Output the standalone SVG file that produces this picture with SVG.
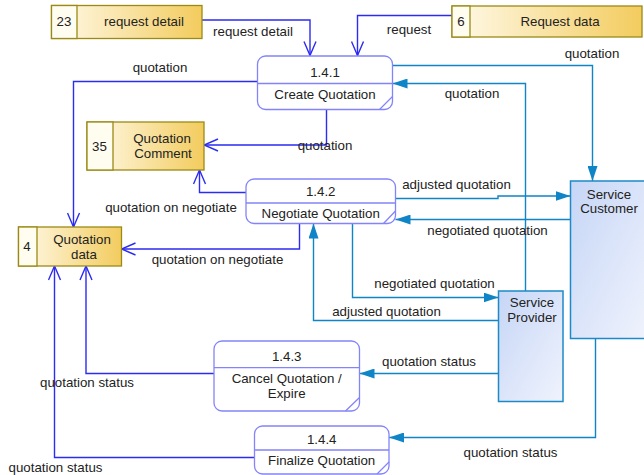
<svg xmlns="http://www.w3.org/2000/svg" width="644" height="475" viewBox="0 0 644 475">
  <style>
    text { font-family: "Liberation Sans", Arial, sans-serif; font-size: 13.3px; fill: #222; text-anchor: middle; }
    .proc { fill: #fff; stroke: #8484fa; stroke-width: 1.3; }
    .pline { stroke: #8484fa; stroke-width: 1.3; fill: none; }
    .store { stroke: #9a8a14; stroke-width: 1.3; }
    .ent { stroke: #1c8ac8; stroke-width: 1.5; }
    .flow { fill: none; stroke: #2b2bf2; stroke-width: 1.4; marker-end: url(#open); }
    .eflow { fill: none; stroke: #0f84c6; stroke-width: 1.4; marker-end: url(#solid); }
  </style>
  <defs>
    <linearGradient id="gold" x1="0" y1="0" x2="1" y2="0">
      <stop offset="0" stop-color="#fffaea"/>
      <stop offset="1" stop-color="#f3cc5e"/>
    </linearGradient>
    <linearGradient id="blueish" x1="0" y1="0" x2="1" y2="1">
      <stop offset="0" stop-color="#c6d6f6"/>
      <stop offset="1" stop-color="#f0f3fd"/>
    </linearGradient>
    <marker id="open" markerUnits="userSpaceOnUse" viewBox="0 0 16 14" refX="15" refY="7" markerWidth="16" markerHeight="14" orient="auto">
      <path d="M1,1 L15,7 L1,13" fill="none" stroke="#2b2bf2" stroke-width="1.4"/>
    </marker>
    <marker id="solid" markerUnits="userSpaceOnUse" viewBox="0 0 16 10" refX="15" refY="5" markerWidth="16" markerHeight="10" orient="auto">
      <path d="M0,0 L15,5 L0,10 z" fill="#0f84c6"/>
    </marker>
  </defs>

  <!-- data flows -->
  <g id="connectors">
    <path class="flow" d="M202,20 H310 V55.5"/>
    <path class="flow" d="M452,15.5 H357.5 V55.5"/>
    <path class="flow" d="M257.5,81.5 H73.5 V227"/>
    <path class="flow" d="M326.5,109.5 V145 H204"/>
    <path class="flow" d="M246,192.5 H199.5 V170"/>
    <path class="flow" d="M299.5,223.5 V249 H121.5"/>
    <path class="flow" d="M214,373.5 H86 V266"/>
    <path class="flow" d="M254.5,457.5 H54.5 V266"/>

    <path class="eflow" d="M392.5,65.5 H592.5 V181"/>
    <path class="eflow" d="M525.5,291 V83.5 H392.5"/>
    <path class="eflow" d="M395.5,198.5 H498 V196 H570.5"/>
    <path class="eflow" d="M570.5,219.5 H395.5"/>
    <path class="eflow" d="M352.5,223.5 V297.5 H498.5"/>
    <path class="eflow" d="M498.5,320.5 H313.5 V223.5"/>
    <path class="eflow" d="M498.5,373.5 H359.5"/>
    <path class="eflow" d="M595.5,338.5 V437.5 H389"/>

    <text x="253" y="36">request detail</text>
    <text x="409" y="34">request</text>
    <text x="160" y="72">quotation</text>
    <text x="325" y="149.5">quotation</text>
    <text x="171" y="211.5">quotation on negotiate</text>
    <text x="217.5" y="263.5">quotation on negotiate</text>
    <text x="87" y="387">quotation status</text>
    <text x="55.5" y="472">quotation status</text>
    <text x="592" y="58">quotation</text>
    <text x="472" y="97.5">quotation</text>
    <text x="456.5" y="188.5">adjusted quotation</text>
    <text x="487.5" y="234.5">negotiated quotation</text>
    <text x="434.5" y="288">negotiated quotation</text>
    <text x="386.5" y="316">adjusted quotation</text>
    <text x="429" y="366">quotation status</text>
    <text x="510.5" y="456.5">quotation status</text>
  </g>

  <!-- data stores -->
  <g id="store-23">
    <rect class="store" x="51.5" y="5.5" width="150.5" height="33" fill="url(#gold)"/>
    <rect class="store" x="51.5" y="5.5" width="25.5" height="33" fill="#fffcf0"/>
    <text x="64" y="26">23</text>
    <text x="144" y="26">request detail</text>
  </g>
  <g id="store-6">
    <rect class="store" x="452" y="6" width="190" height="31" fill="url(#gold)"/>
    <rect class="store" x="452" y="6" width="18" height="31" fill="#fffcf0"/>
    <text x="461" y="26">6</text>
    <text x="560" y="26">Request data</text>
  </g>
  <g id="store-35">
    <rect class="store" x="87" y="122" width="117" height="48" fill="url(#gold)"/>
    <rect class="store" x="87" y="122" width="26" height="48" fill="#fffcf0"/>
    <text x="99.5" y="150.5">35</text>
    <text x="162" y="142.5">Quotation</text>
    <text x="163" y="157.5">Comment</text>
  </g>
  <g id="store-4">
    <rect class="store" x="18.5" y="227" width="103" height="39" fill="url(#gold)"/>
    <rect class="store" x="18.5" y="227" width="18.5" height="39" fill="#fffcf0"/>
    <text x="27" y="250.5">4</text>
    <text x="82" y="244">Quotation</text>
    <text x="84" y="259">data</text>
  </g>

  <!-- processes -->
  <g id="proc-1.4.1">
    <rect class="proc" x="257.5" y="56" width="135" height="53.5" rx="8"/>
    <path class="pline" d="M257.5,83.5 H392.5 M392.5,96.5 L379.5,109.5"/>
    <text x="325" y="76.5">1.4.1</text>
    <text x="325" y="98.5">Create Quotation</text>
  </g>
  <g id="proc-1.4.2">
    <rect class="proc" x="246" y="179" width="149.5" height="44.5" rx="8"/>
    <path class="pline" d="M246,203 H395.5 M395.5,211 L383.5,223.5"/>
    <text x="320.7" y="195.5">1.4.2</text>
    <text x="320.7" y="217.5">Negotiate Quotation</text>
  </g>
  <g id="proc-1.4.3">
    <rect class="proc" x="214" y="341" width="145.5" height="70" rx="8"/>
    <path class="pline" d="M214,367.7 H359.5 M359.5,397.5 L345.5,411"/>
    <text x="286.7" y="360.7">1.4.3</text>
    <text x="286.7" y="383">Cancel Quotation /</text>
    <text x="286.7" y="398">Expire</text>
  </g>
  <g id="proc-1.4.4">
    <rect class="proc" x="254.5" y="426" width="134.5" height="48" rx="8"/>
    <path class="pline" d="M254.5,450 H389 M389,462 L377,474"/>
    <text x="321.7" y="444.3">1.4.4</text>
    <text x="321.7" y="465.3">Finalize Quotation</text>
  </g>

  <!-- external entities -->
  <g id="ent-customer">
    <rect class="ent" x="570.5" y="181" width="78" height="157.5" fill="url(#blueish)"/>
    <text x="609" y="198.5">Service</text>
    <text x="609" y="213">Customer</text>
  </g>
  <g id="ent-provider">
    <rect class="ent" x="498.5" y="291" width="64.5" height="110.5" fill="url(#blueish)"/>
    <text x="532" y="306.5">Service</text>
    <text x="532" y="321.5">Provider</text>
  </g>
</svg>
